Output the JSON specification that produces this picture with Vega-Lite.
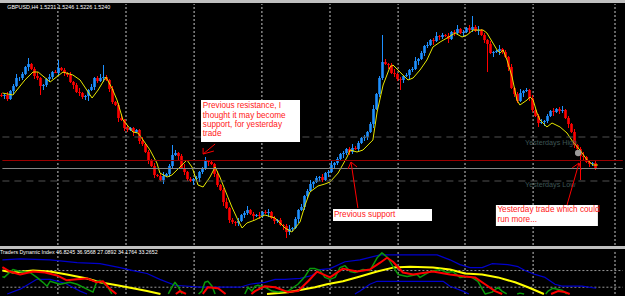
{
  "$schema": "https://vega.github.io/schema/vega-lite/v6.json",
  "background": "#c0c0c0",
  "padding": {"left": 0, "right": 0, "top": 3, "bottom": 0},
  "spacing": 3,
  "config": {"view": {"stroke": null, "fill": "#000000"}, "scale": {"continuousPadding": 0}, "line": {"strokeJoin": "round"}, "rule": {"strokeJoin": "round"}},
  "datasets": {
    "candles": [
      {"t":0,"o":151,"h":153,"l":149,"c":150},{"t":1,"o":150,"h":152,"l":147,"c":151},{"t":2,"o":151,"h":154,"l":145,"c":147},{"t":3,"o":147,"h":156,"l":146,"c":155},{"t":4,"o":155,"h":162,"l":151,"c":160},{"t":5,"o":160,"h":172,"l":159,"c":168},{"t":6,"o":168,"h":169,"l":165,"c":168},{"t":7,"o":168,"h":174,"l":166,"c":172},{"t":8,"o":172,"h":180,"l":171,"c":179},{"t":9,"o":179,"h":188,"l":175,"c":182},
      {"t":10,"o":182,"h":183,"l":176,"c":177},{"t":11,"o":177,"h":179,"l":167,"c":170},{"t":12,"o":170,"h":174,"l":166,"c":168},{"t":13,"o":168,"h":169,"l":151,"c":160},{"t":14,"o":160,"h":162,"l":156,"c":161},{"t":15,"o":161,"h":168,"l":159,"c":167},{"t":16,"o":167,"h":172,"l":164,"c":169},{"t":17,"o":169,"h":175,"l":167,"c":174},{"t":18,"o":174,"h":176,"l":173,"c":173},{"t":19,"o":173,"h":186,"l":170,"c":178},
      {"t":20,"o":178,"h":179,"l":175,"c":176},{"t":21,"o":176,"h":178,"l":170,"c":173},{"t":22,"o":173,"h":174,"l":169,"c":171},{"t":23,"o":171,"h":174,"l":163,"c":164},{"t":24,"o":164,"h":165,"l":157,"c":161},{"t":25,"o":161,"h":163,"l":153,"c":154},{"t":26,"o":154,"h":158,"l":150,"c":153},{"t":27,"o":153,"h":154,"l":147,"c":149},{"t":28,"o":149,"h":151,"l":146,"c":150},{"t":29,"o":150,"h":157,"l":145,"c":156},
      {"t":30,"o":156,"h":162,"l":155,"c":159},{"t":31,"o":159,"h":169,"l":156,"c":168},{"t":32,"o":168,"h":170,"l":163,"c":165},{"t":33,"o":165,"h":172,"l":164,"c":168},{"t":34,"o":168,"h":181,"l":164,"c":169},{"t":35,"o":169,"h":171,"l":165,"c":166},{"t":36,"o":166,"h":167,"l":154,"c":157},{"t":37,"o":157,"h":160,"l":142,"c":144},{"t":38,"o":144,"h":145,"l":140,"c":141},{"t":39,"o":141,"h":143,"l":124,"c":128},
      {"t":40,"o":128,"h":132,"l":125,"c":126},{"t":41,"o":126,"h":127,"l":115,"c":118},{"t":42,"o":118,"h":120,"l":114,"c":116},{"t":43,"o":116,"h":119,"l":115,"c":118},{"t":44,"o":118,"h":119,"l":110,"c":114},{"t":45,"o":114,"h":117,"l":113,"c":116},{"t":46,"o":116,"h":117,"l":102,"c":105},{"t":47,"o":105,"h":109,"l":100,"c":102},{"t":48,"o":102,"h":103,"l":93,"c":94},{"t":49,"o":94,"h":96,"l":82,"c":86},
      {"t":50,"o":86,"h":87,"l":79,"c":80},{"t":51,"o":80,"h":83,"l":68,"c":71},{"t":52,"o":71,"h":72,"l":69,"c":70},{"t":53,"o":70,"h":73,"l":65,"c":66},{"t":54,"o":66,"h":74,"l":62,"c":70},{"t":55,"o":70,"h":73,"l":69,"c":72},{"t":56,"o":72,"h":82,"l":69,"c":80},{"t":57,"o":80,"h":101,"l":78,"c":91},{"t":58,"o":91,"h":96,"l":90,"c":93},{"t":59,"o":93,"h":94,"l":86,"c":90},
      {"t":60,"o":90,"h":92,"l":77,"c":78},{"t":61,"o":78,"h":82,"l":71,"c":74},{"t":62,"o":74,"h":75,"l":65,"c":67},{"t":63,"o":67,"h":69,"l":64,"c":65},{"t":64,"o":65,"h":68,"l":61,"c":67},{"t":65,"o":67,"h":70,"l":66,"c":68},{"t":66,"o":68,"h":75,"l":64,"c":74},{"t":67,"o":74,"h":79,"l":72,"c":77},{"t":68,"o":77,"h":89,"l":76,"c":85},{"t":69,"o":85,"h":86,"l":80,"c":84},
      {"t":70,"o":84,"h":86,"l":81,"c":82},{"t":71,"o":82,"h":83,"l":69,"c":72},{"t":72,"o":72,"h":75,"l":59,"c":61},{"t":73,"o":61,"h":62,"l":55,"c":56},{"t":74,"o":56,"h":58,"l":40,"c":44},{"t":75,"o":44,"h":48,"l":37,"c":38},{"t":76,"o":38,"h":39,"l":23,"c":26},{"t":77,"o":26,"h":28,"l":22,"c":24},{"t":78,"o":24,"h":25,"l":20,"c":23},{"t":79,"o":23,"h":28,"l":20,"c":25},
      {"t":80,"o":25,"h":32,"l":24,"c":31},{"t":81,"o":31,"h":35,"l":28,"c":33},{"t":82,"o":33,"h":40,"l":31,"c":36},{"t":83,"o":36,"h":37,"l":31,"c":32},{"t":84,"o":32,"h":34,"l":26,"c":30},{"t":85,"o":30,"h":32,"l":29,"c":31},{"t":86,"o":31,"h":34,"l":27,"c":30},{"t":87,"o":30,"h":35,"l":28,"c":34},{"t":88,"o":34,"h":36,"l":32,"c":33},{"t":89,"o":33,"h":37,"l":29,"c":34},
      {"t":90,"o":34,"h":35,"l":27,"c":28},{"t":91,"o":28,"h":30,"l":22,"c":25},{"t":92,"o":25,"h":27,"l":23,"c":26},{"t":93,"o":26,"h":28,"l":20,"c":21},{"t":94,"o":21,"h":22,"l":16,"c":20},{"t":95,"o":20,"h":22,"l":8,"c":14},{"t":96,"o":14,"h":21,"l":11,"c":17},{"t":97,"o":17,"h":19,"l":15,"c":18},{"t":98,"o":18,"h":29,"l":17,"c":27},{"t":99,"o":27,"h":37,"l":23,"c":36},
      {"t":100,"o":36,"h":42,"l":35,"c":39},{"t":101,"o":39,"h":51,"l":36,"c":50},{"t":102,"o":50,"h":57,"l":48,"c":55},{"t":103,"o":55,"h":66,"l":54,"c":62},{"t":104,"o":62,"h":65,"l":58,"c":64},{"t":105,"o":64,"h":70,"l":63,"c":68},{"t":106,"o":68,"h":70,"l":65,"c":69},{"t":107,"o":69,"h":72,"l":64,"c":66},{"t":108,"o":66,"h":74,"l":65,"c":73},{"t":109,"o":73,"h":76,"l":69,"c":74},
      {"t":110,"o":74,"h":85,"l":73,"c":81},{"t":111,"o":81,"h":84,"l":78,"c":83},{"t":112,"o":83,"h":89,"l":81,"c":87},{"t":113,"o":87,"h":93,"l":86,"c":92},{"t":114,"o":92,"h":95,"l":88,"c":93},{"t":115,"o":93,"h":98,"l":91,"c":97},{"t":116,"o":97,"h":99,"l":91,"c":94},{"t":117,"o":94,"h":102,"l":92,"c":98},{"t":118,"o":98,"h":100,"l":96,"c":97},{"t":119,"o":97,"h":105,"l":95,"c":103},
      {"t":120,"o":103,"h":109,"l":102,"c":108},{"t":121,"o":108,"h":111,"l":105,"c":109},{"t":122,"o":109,"h":115,"l":106,"c":114},{"t":123,"o":114,"h":124,"l":113,"c":122},{"t":124,"o":122,"h":141,"l":118,"c":137},{"t":125,"o":137,"h":153,"l":136,"c":152},{"t":126,"o":152,"h":170,"l":149,"c":168},{"t":127,"o":168,"h":211,"l":166,"c":184},{"t":128,"o":184,"h":187,"l":181,"c":182},{"t":129,"o":182,"h":183,"l":177,"c":181},
      {"t":130,"o":181,"h":183,"l":172,"c":173},{"t":131,"o":173,"h":177,"l":169,"c":172},{"t":132,"o":172,"h":173,"l":165,"c":167},{"t":133,"o":167,"h":169,"l":156,"c":166},{"t":134,"o":166,"h":171,"l":163,"c":170},{"t":135,"o":170,"h":173,"l":169,"c":171},{"t":136,"o":171,"h":177,"l":167,"c":176},{"t":137,"o":176,"h":179,"l":174,"c":177},{"t":138,"o":177,"h":189,"l":176,"c":185},{"t":139,"o":185,"h":188,"l":181,"c":187},
      {"t":140,"o":187,"h":195,"l":186,"c":193},{"t":141,"o":193,"h":201,"l":190,"c":200},{"t":142,"o":200,"h":204,"l":198,"c":201},{"t":143,"o":201,"h":207,"l":200,"c":206},{"t":144,"o":206,"h":208,"l":201,"c":205},{"t":145,"o":205,"h":214,"l":204,"c":210},{"t":146,"o":210,"h":211,"l":206,"c":209},{"t":147,"o":209,"h":213,"l":207,"c":211},{"t":148,"o":211,"h":212,"l":209,"c":210},{"t":149,"o":210,"h":213,"l":203,"c":207},
      {"t":150,"o":207,"h":215,"l":206,"c":214},{"t":151,"o":214,"h":216,"l":210,"c":213},{"t":152,"o":213,"h":221,"l":211,"c":217},{"t":153,"o":217,"h":218,"l":212,"c":213},{"t":154,"o":213,"h":216,"l":209,"c":214},{"t":155,"o":214,"h":219,"l":213,"c":218},{"t":156,"o":218,"h":221,"l":213,"c":216},{"t":157,"o":216,"h":230,"l":214,"c":219},{"t":158,"o":219,"h":221,"l":214,"c":215},{"t":159,"o":215,"h":220,"l":211,"c":216},
      {"t":160,"o":216,"h":217,"l":210,"c":211},{"t":161,"o":211,"h":213,"l":203,"c":206},{"t":162,"o":206,"h":207,"l":174,"c":202},{"t":163,"o":202,"h":205,"l":192,"c":193},{"t":164,"o":193,"h":195,"l":189,"c":194},{"t":165,"o":194,"h":196,"l":193,"c":195},{"t":166,"o":195,"h":201,"l":191,"c":197},{"t":167,"o":197,"h":198,"l":192,"c":194},{"t":168,"o":194,"h":196,"l":188,"c":189},{"t":169,"o":189,"h":190,"l":175,"c":179},
      {"t":170,"o":179,"h":182,"l":157,"c":158},{"t":171,"o":158,"h":159,"l":149,"c":152},{"t":172,"o":152,"h":154,"l":143,"c":145},{"t":173,"o":145,"h":157,"l":144,"c":153},{"t":174,"o":153,"h":156,"l":149,"c":155},{"t":175,"o":155,"h":158,"l":154,"c":156},{"t":176,"o":156,"h":157,"l":145,"c":148},{"t":177,"o":148,"h":151,"l":134,"c":136},{"t":178,"o":136,"h":137,"l":129,"c":130},{"t":179,"o":130,"h":132,"l":119,"c":123},
      {"t":180,"o":123,"h":127,"l":122,"c":124},{"t":181,"o":124,"h":126,"l":120,"c":125},{"t":182,"o":125,"h":132,"l":123,"c":130},{"t":183,"o":130,"h":136,"l":129,"c":135},{"t":184,"o":135,"h":138,"l":130,"c":134},{"t":185,"o":134,"h":138,"l":133,"c":137},{"t":186,"o":137,"h":139,"l":132,"c":135},{"t":187,"o":135,"h":140,"l":133,"c":136},{"t":188,"o":136,"h":137,"l":127,"c":128},{"t":189,"o":128,"h":130,"l":118,"c":122},
      {"t":190,"o":122,"h":123,"l":113,"c":114},{"t":191,"o":114,"h":117,"l":98,"c":101},{"t":192,"o":101,"h":102,"l":95,"c":97},{"t":193,"o":97,"h":99,"l":66,"c":90},{"t":194,"o":90,"h":94,"l":85,"c":89},{"t":195,"o":89,"h":90,"l":83,"c":84},{"t":196,"o":84,"h":86,"l":79,"c":82},{"t":197,"o":82,"h":84,"l":80,"c":83},{"t":198,"o":83,"h":85,"l":76,"c":78}
    ],
    "ma": [
      {"t":0.3,"v":153},{"t":3.8,"v":151},{"t":7.8,"v":166},{"t":10.5,"v":174},{"t":12.2,"v":174},{"t":16.2,"v":164},{"t":20.5,"v":174},{"t":23.8,"v":171},{"t":26.2,"v":166},{"t":30.2,"v":148},{"t":32.2,"v":156},{"t":34.8,"v":169},{"t":36.8,"v":158},{"t":38.5,"v":146},{"t":40.5,"v":126},{"t":43.8,"v":114},{"t":45.5,"v":113},{"t":47.2,"v":106},{"t":49.5,"v":96},{"t":51.8,"v":83},{"t":52.8,"v":73},{"t":55.2,"v":69},{"t":56.8,"v":71},{"t":59.5,"v":79},{"t":61.8,"v":86},{"t":63.5,"v":79},{"t":65.5,"v":61},{"t":67.2,"v":59},{"t":69.5,"v":69},{"t":71.2,"v":79},{"t":72.8,"v":69},{"t":74.5,"v":56},{"t":76.8,"v":39},{"t":78.8,"v":26},{"t":80.2,"v":18},{"t":81.8,"v":23},{"t":84.5,"v":26},{"t":87.8,"v":31},{"t":91.2,"v":28},{"t":94.5,"v":18},{"t":96.8,"v":14},{"t":99.5,"v":24},{"t":101.2,"v":41},{"t":102.8,"v":54},{"t":105.5,"v":60},{"t":107.8,"v":62},{"t":109.5,"v":64},{"t":112.2,"v":73},{"t":115.2,"v":89},{"t":116.2,"v":96},{"t":118.5,"v":94},{"t":120.5,"v":96},{"t":123.8,"v":106},{"t":125.2,"v":134},{"t":127.2,"v":161},{"t":129.5,"v":179},{"t":130.5,"v":181},{"t":132.8,"v":174},{"t":135.5,"v":166},{"t":137.2,"v":168},{"t":139.5,"v":176},{"t":141.8,"v":186},{"t":143.8,"v":199},{"t":146.2,"v":204},{"t":148.5,"v":208},{"t":151.2,"v":213},{"t":153.5,"v":209},{"t":155.2,"v":211},{"t":157.2,"v":216},{"t":160.5,"v":216},{"t":161.8,"v":213},{"t":163.8,"v":203},{"t":165.2,"v":196},{"t":166.2,"v":193},{"t":167.2,"v":196},{"t":168.5,"v":186},{"t":170.2,"v":169},{"t":171.8,"v":146},{"t":172.8,"v":141},{"t":175.2,"v":146},{"t":176.2,"v":149},{"t":177.2,"v":146},{"t":178.5,"v":133},{"t":179.5,"v":126},{"t":181.8,"v":119},{"t":183.5,"v":123},{"t":186.2,"v":119},{"t":188.5,"v":113},{"t":190.5,"v":104},{"t":192.8,"v":96},{"t":195.2,"v":86},{"t":197.2,"v":81},{"t":198.8,"v":81}
    ],
    "grid": [{"t":18.8},{"t":41.5},{"t":64.2},{"t":86.8},{"t":109.5},{"t":132.2},{"t":154.5},{"t":177.2},{"t":204.5}],
    "levels": [{"v":109,"k":"dash"},{"v":65,"k":"dash"},{"v":85.5,"k":"red"},{"v":77.5,"k":"gray"}],
    "boxes": [{"t":66.5,"t2":99.5,"v":146,"v2":104},{"t":110.5,"t2":143.5,"v":37,"v2":25},{"t":164.8,"t2":198.8,"v":41,"v2":20}],
    "notes": [
      {"t":67.1,"v":140,"text":"Previous resistance, I"},
      {"t":67.1,"v":130.5,"text":"thought it may become"},
      {"t":67.1,"v":121.5,"text":"support, for yesterday"},
      {"t":67.1,"v":112,"text":"trade"},
      {"t":110.8,"v":31.5,"text":"Previous support"},
      {"t":165.3,"v":36,"text":"Yesterday trade which could"},
      {"t":165.3,"v":26.5,"text":"run more..."}
    ],
    "arrows": [
      {"t":71.2,"v":102,"t2":67.2,"v2":92},{"t":67.2,"v":92,"t2":67.2,"v2":98},{"t":67.2,"v":92,"t2":70.8,"v2":95},
      {"t":118.8,"v":38,"t2":116.5,"v2":84},{"t":116.5,"v":84,"t2":115.5,"v2":77},{"t":116.5,"v":84,"t2":118.5,"v2":79},
      {"t":188.5,"v":41,"t2":192.5,"v2":83},{"t":192.5,"v":83,"t2":190.2,"v2":78},{"t":192.5,"v":83,"t2":193.2,"v2":76}
    ],
    "labels": [{"t":174.5,"v":103.3,"text":"Yesterdays High"},{"t":174.5,"v":60.7,"text":"Yesterdays Low"}],
    "marker": [{"t":192.2,"v":93}],
    "title": [{"t":1.9,"v":239,"text":"GBPUSD,H4 1.5231 1.5246 1.5226 1.5240"}],
    "tdi": [
      {"s":"up","g":1,"t":0.3,"y":79.6},{"s":"up","g":1,"t":6.2,"y":80.7},{"s":"up","g":1,"t":16.2,"y":79.6},{"s":"up","g":1,"t":25.2,"y":76.5},{"s":"up","g":1,"t":32.8,"y":75.4},{"s":"up","g":1,"t":39.5,"y":71.2},{"s":"up","g":1,"t":43.8,"y":68},{"s":"up","g":1,"t":48.5,"y":64.8},{"s":"up","g":1,"t":52.8,"y":58.5},{"s":"up","g":1,"t":57.8,"y":52.1},{"s":"up","g":1,"t":66.2,"y":50},{"s":"up","g":1,"t":79.5,"y":50},{"s":"up","g":1,"t":82.8,"y":53.2},{"s":"up","g":1,"t":87.8,"y":55.3},{"s":"up","g":1,"t":91.2,"y":58.5},{"s":"up","g":1,"t":94.5,"y":58.5},{"s":"up","g":1,"t":99.5,"y":59.5},{"s":"up","g":1,"t":103.5,"y":62.7},{"s":"up","g":1,"t":106.2,"y":69.1},{"s":"up","g":1,"t":109.5,"y":70.1},{"s":"up","g":1,"t":114.5,"y":77.5},{"s":"up","g":1,"t":119.5,"y":79.6},{"s":"up","g":1,"t":126.2,"y":84.9},{"s":"up","g":1,"t":145.2,"y":84.9},{"s":"up","g":1,"t":149.5,"y":79.6},{"s":"up","g":1,"t":152.8,"y":74.4},{"s":"up","g":1,"t":156.2,"y":71.2},{"s":"up","g":1,"t":160.2,"y":71.2},{"s":"up","g":1,"t":163.5,"y":75.4},{"s":"up","g":1,"t":168.8,"y":74.4},{"s":"up","g":1,"t":172.2,"y":72.2},{"s":"up","g":1,"t":174.5,"y":68},{"s":"up","g":1,"t":177.8,"y":63.8},{"s":"up","g":1,"t":181.2,"y":60.6},{"s":"up","g":1,"t":184.5,"y":53.2},{"s":"up","g":1,"t":186.8,"y":51.1},{"s":"up","g":1,"t":193.5,"y":51.1},{"s":"up","g":1,"t":198.2,"y":48.9},
      {"s":"lo","g":1,"t":1.9,"y":42.7},{"s":"lo","g":1,"t":6.2,"y":47.9},{"s":"lo","g":1,"t":11.8,"y":58.5},{"s":"lo","g":1,"t":16.2,"y":58.5},{"s":"lo","g":1,"t":21.2,"y":54.2},{"s":"lo","g":1,"t":26.2,"y":45.8},{"s":"lo","g":1,"t":28.5,"y":42.7},
      {"s":"lo","g":2,"t":117.8,"y":42.7},{"s":"lo","g":2,"t":119.5,"y":45.8},{"s":"lo","g":2,"t":122.8,"y":53.2},{"s":"lo","g":2,"t":125.2,"y":56.4},{"s":"lo","g":2,"t":147.2,"y":56.4},{"s":"lo","g":2,"t":149.5,"y":51.1},{"s":"lo","g":2,"t":153.8,"y":45.8},{"s":"lo","g":2,"t":155.8,"y":42.7},
      {"s":"mid","g":1,"t":0.3,"y":68},{"s":"mid","g":1,"t":3.8,"y":65.9},{"s":"mid","g":1,"t":10.5,"y":68},{"s":"mid","g":1,"t":16.2,"y":66.9},{"s":"mid","g":1,"t":21.8,"y":63.8},{"s":"mid","g":1,"t":28.5,"y":59.5},{"s":"mid","g":1,"t":32.8,"y":55.3},{"s":"mid","g":1,"t":38.5,"y":52.1},{"s":"mid","g":1,"t":43.8,"y":48.9},{"s":"mid","g":1,"t":48.5,"y":45.8},{"s":"mid","g":1,"t":53.0,"y":42.7},
      {"s":"mid","g":2,"t":88.5,"y":42.7},{"s":"mid","g":2,"t":95.5,"y":44.6},{"s":"mid","g":2,"t":104.5,"y":50},{"s":"mid","g":2,"t":108.5,"y":53.2},{"s":"mid","g":2,"t":113.8,"y":56.4},{"s":"mid","g":2,"t":119.5,"y":61.6},{"s":"mid","g":2,"t":125.2,"y":66.9},{"s":"mid","g":2,"t":130.5,"y":71.2},{"s":"mid","g":2,"t":136.2,"y":72.2},{"s":"mid","g":2,"t":143.8,"y":71.2},{"s":"mid","g":2,"t":149.5,"y":69.1},{"s":"mid","g":2,"t":154.5,"y":64.8},{"s":"mid","g":2,"t":160.2,"y":63.8},{"s":"mid","g":2,"t":165.5,"y":60.6},{"s":"mid","g":2,"t":171.2,"y":55.3},{"s":"mid","g":2,"t":175.5,"y":50},{"s":"mid","g":2,"t":180.8,"y":42.7},
      {"s":"rsi","g":1,"t":0.3,"y":61.5},{"s":"rsi","g":1,"t":0.9,"y":60.6},{"s":"rsi","g":1,"t":3.8,"y":69.1},{"s":"rsi","g":1,"t":6.2,"y":66.9},{"s":"rsi","g":1,"t":9.5,"y":65.9},{"s":"rsi","g":1,"t":11.8,"y":60.6},{"s":"rsi","g":1,"t":13.8,"y":55.3},{"s":"rsi","g":1,"t":15.2,"y":51.1},{"s":"rsi","g":1,"t":16.2,"y":56.4},{"s":"rsi","g":1,"t":19.5,"y":53.2},{"s":"rsi","g":1,"t":22.8,"y":55.3},{"s":"rsi","g":1,"t":25.2,"y":53.2},{"s":"rsi","g":1,"t":28.5,"y":47.9},{"s":"rsi","g":1,"t":30.5,"y":44.7},{"s":"rsi","g":1,"t":31.8,"y":56.4},{"s":"rsi","g":1,"t":32.8,"y":57.4},{"s":"rsi","g":1,"t":35.2,"y":51.1},{"s":"rsi","g":1,"t":36.8,"y":42.7},
      {"s":"rsi","g":2,"t":55.6,"y":42.7},{"s":"rsi","g":2,"t":56.8,"y":50},{"s":"rsi","g":2,"t":57.8,"y":55.3},{"s":"rsi","g":2,"t":58.8,"y":51.1},{"s":"rsi","g":2,"t":60.2,"y":42.7},
      {"s":"rsi","g":3,"t":65.7,"y":42.7},{"s":"rsi","g":3,"t":66.8,"y":45.8},{"s":"rsi","g":3,"t":67.8,"y":55.3},{"s":"rsi","g":3,"t":68.8,"y":56.4},{"s":"rsi","g":3,"t":70.2,"y":51.1},{"s":"rsi","g":3,"t":71.2,"y":42.7},
      {"s":"rsi","g":4,"t":81.1,"y":42.7},{"s":"rsi","g":4,"t":82.2,"y":50},{"s":"rsi","g":4,"t":83.5,"y":45.8},{"s":"rsi","g":4,"t":84.5,"y":51.1},{"s":"rsi","g":4,"t":85.5,"y":52.1},{"s":"rsi","g":4,"t":87.8,"y":50},{"s":"rsi","g":4,"t":90.2,"y":45.8},{"s":"rsi","g":4,"t":92.2,"y":44.7},{"s":"rsi","g":4,"t":95.5,"y":45.8},{"s":"rsi","g":4,"t":98.8,"y":53.2},{"s":"rsi","g":4,"t":101.2,"y":61.6},{"s":"rsi","g":4,"t":102.8,"y":70.1},{"s":"rsi","g":4,"t":104.5,"y":70.1},{"s":"rsi","g":4,"t":106.2,"y":68},{"s":"rsi","g":4,"t":107.8,"y":60.6},{"s":"rsi","g":4,"t":109.5,"y":58.5},{"s":"rsi","g":4,"t":111.2,"y":60.6},{"s":"rsi","g":4,"t":112.8,"y":71.2},{"s":"rsi","g":4,"t":114.5,"y":73.3},{"s":"rsi","g":4,"t":116.2,"y":66.9},{"s":"rsi","g":4,"t":117.8,"y":65.9},{"s":"rsi","g":4,"t":120.5,"y":69.1},{"s":"rsi","g":4,"t":122.8,"y":68},{"s":"rsi","g":4,"t":125.2,"y":81.8},{"s":"rsi","g":4,"t":126.8,"y":87.1},{"s":"rsi","g":4,"t":128.8,"y":81.8},{"s":"rsi","g":4,"t":130.5,"y":72.2},{"s":"rsi","g":4,"t":132.2,"y":63.8},{"s":"rsi","g":4,"t":135.2,"y":61.6},{"s":"rsi","g":4,"t":138.5,"y":63.8},{"s":"rsi","g":4,"t":139.5,"y":60.6},{"s":"rsi","g":4,"t":142.8,"y":66.9},{"s":"rsi","g":4,"t":146.2,"y":69.1},{"s":"rsi","g":4,"t":148.5,"y":65.9},{"s":"rsi","g":4,"t":150.5,"y":66.9},{"s":"rsi","g":4,"t":152.8,"y":60.6},{"s":"rsi","g":4,"t":155.2,"y":61.6},{"s":"rsi","g":4,"t":156.8,"y":60.6},{"s":"rsi","g":4,"t":158.8,"y":56.4},{"s":"rsi","g":4,"t":161.2,"y":42.7},{"s":"rsi","g":4,"t":163.5,"y":44.7},{"s":"rsi","g":4,"t":165.5,"y":50},{"s":"rsi","g":4,"t":166.8,"y":45.8},{"s":"rsi","g":4,"t":168.4,"y":42.7},
      {"s":"rsi","g":5,"t":171.9,"y":42.7},{"s":"rsi","g":5,"t":172.8,"y":43.6},{"s":"rsi","g":5,"t":174.2,"y":42.7},
      {"s":"rsi","g":6,"t":181.4,"y":42.7},{"s":"rsi","g":6,"t":182.2,"y":45.8},{"s":"rsi","g":6,"t":183.8,"y":48.9},{"s":"rsi","g":6,"t":186.8,"y":46.8},{"s":"rsi","g":6,"t":188.4,"y":42.7},
      {"s":"sig","g":1,"t":0.3,"y":71.8},{"s":"sig","g":1,"t":2.8,"y":66.9},{"s":"sig","g":1,"t":6.2,"y":63.8},{"s":"sig","g":1,"t":10.5,"y":66.9},{"s":"sig","g":1,"t":14.5,"y":65.9},{"s":"sig","g":1,"t":18.5,"y":62.7},{"s":"sig","g":1,"t":21.8,"y":57.4},{"s":"sig","g":1,"t":25.2,"y":58.5},{"s":"sig","g":1,"t":28.5,"y":59.5},{"s":"sig","g":1,"t":31.8,"y":55.3},{"s":"sig","g":1,"t":33.8,"y":56.4},{"s":"sig","g":1,"t":36.2,"y":47.9},{"s":"sig","g":1,"t":38.3,"y":42.7},
      {"s":"sig","g":2,"t":58.1,"y":42.7},{"s":"sig","g":2,"t":59.5,"y":45.8},{"s":"sig","g":2,"t":61.5,"y":42.7},
      {"s":"sig","g":3,"t":67.1,"y":42.7},{"s":"sig","g":3,"t":68.8,"y":50},{"s":"sig","g":3,"t":72.2,"y":48.9},{"s":"sig","g":3,"t":74.7,"y":42.7},
      {"s":"sig","g":4,"t":83.3,"y":42.7},{"s":"sig","g":4,"t":84.5,"y":45.8},{"s":"sig","g":4,"t":87.8,"y":51.1},{"s":"sig","g":4,"t":91.2,"y":50},{"s":"sig","g":4,"t":95.5,"y":44.7},{"s":"sig","g":4,"t":98.8,"y":45.8},{"s":"sig","g":4,"t":102.2,"y":56.4},{"s":"sig","g":4,"t":105.2,"y":66.9},{"s":"sig","g":4,"t":109.5,"y":60.6},{"s":"sig","g":4,"t":113.8,"y":70.1},{"s":"sig","g":4,"t":118.5,"y":66.9},{"s":"sig","g":4,"t":122.8,"y":69.1},{"s":"sig","g":4,"t":126.2,"y":76.5},{"s":"sig","g":4,"t":128.5,"y":81.8},{"s":"sig","g":4,"t":130.5,"y":77.5},{"s":"sig","g":4,"t":133.8,"y":65.9},{"s":"sig","g":4,"t":137.2,"y":63.8},{"s":"sig","g":4,"t":143.8,"y":66.9},{"s":"sig","g":4,"t":149.5,"y":63.8},{"s":"sig","g":4,"t":154.5,"y":61.6},{"s":"sig","g":4,"t":157.8,"y":60.6},{"s":"sig","g":4,"t":161.2,"y":53.2},{"s":"sig","g":4,"t":164.5,"y":45.8},{"s":"sig","g":4,"t":166.9,"y":42.7},
      {"s":"sig","g":5,"t":183.2,"y":42.7},{"s":"sig","g":5,"t":185.5,"y":45.8},{"s":"sig","g":5,"t":187.8,"y":44.7},{"s":"sig","g":5,"t":189.4,"y":42.7}
    ],
    "tdilevels": [{"y":68},{"y":50}],
    "tdititle": [{"t":-0.5,"y":88.3,"text":"Traders Dynamic Index 46.8245 36.9568 27.0892 34.1764 33.2652"}]
  },
  "vconcat": [
    {
      "width": 625,
      "height": 243,
      "layer": [
        {"data": {"name": "grid"}, "mark": {"type": "rule", "color": "#c8c8c8", "strokeDash": [2, 2], "strokeWidth": 1},
         "encoding": {
           "x": {"field": "t", "type": "quantitative", "scale": {"domain": [-0.5, 207.83], "nice": false, "zero": false, "padding": 0}, "axis": null},
           "y": {"datum": 1, "type": "quantitative", "scale": {"domain": [0, 243], "nice": false, "zero": false, "padding": 0}, "axis": null},
           "y2": {"datum": 242}}},
        {"data": {"name": "candles"}, "mark": {"type": "rule", "strokeWidth": 1},
         "encoding": {
           "x": {"field": "t", "type": "quantitative", "scale": {"domain": [-0.5, 207.83], "nice": false, "zero": false, "padding": 0}, "axis": null},
           "y": {"field": "l", "type": "quantitative", "scale": {"domain": [0, 243], "nice": false, "zero": false, "padding": 0}, "axis": null},
           "y2": {"field": "h"},
           "color": {"condition": {"test": "datum.c >= datum.o", "value": "#1E90FF"}, "value": "#FF0000"}}},
        {"data": {"name": "candles"}, "mark": {"type": "bar", "size": 2.6},
         "encoding": {
           "x": {"field": "t", "type": "quantitative", "scale": {"domain": [-0.5, 207.83], "nice": false, "zero": false, "padding": 0}, "axis": null},
           "y": {"field": "o", "type": "quantitative", "scale": {"domain": [0, 243], "nice": false, "zero": false, "padding": 0}, "axis": null},
           "y2": {"field": "c"},
           "color": {"condition": {"test": "datum.c >= datum.o", "value": "#1E90FF"}, "value": "#FF0000"}}},
        {"data": {"name": "ma"}, "mark": {"type": "line", "color": "#E6E600", "strokeWidth": 1},
         "encoding": {
           "x": {"field": "t", "type": "quantitative", "scale": {"domain": [-0.5, 207.83], "nice": false, "zero": false, "padding": 0}, "axis": null},
           "y": {"field": "v", "type": "quantitative", "scale": {"domain": [0, 243], "nice": false, "zero": false, "padding": 0}, "axis": null}}},
        {"data": {"name": "levels"}, "transform": [{"filter": "datum.k == 'dash'"}], "mark": {"type": "rule", "color": "#505050", "strokeDash": [7, 5], "strokeWidth": 1},
         "encoding": {
           "x": {"datum": 0.3, "type": "quantitative", "scale": {"domain": [-0.5, 207.83], "nice": false, "zero": false, "padding": 0}, "axis": null},
           "x2": {"datum": 207.1},
           "y": {"field": "v", "type": "quantitative", "scale": {"domain": [0, 243], "nice": false, "zero": false, "padding": 0}, "axis": null}}},
        {"data": {"name": "levels"}, "transform": [{"filter": "datum.k == 'red'"}], "mark": {"type": "rule", "color": "#9A0000", "strokeWidth": 1},
         "encoding": {
           "x": {"datum": 0.3, "type": "quantitative", "scale": {"domain": [-0.5, 207.83], "nice": false, "zero": false, "padding": 0}, "axis": null},
           "x2": {"datum": 207.1},
           "y": {"field": "v", "type": "quantitative", "scale": {"domain": [0, 243], "nice": false, "zero": false, "padding": 0}, "axis": null}}},
        {"data": {"name": "levels"}, "transform": [{"filter": "datum.k == 'gray'"}], "mark": {"type": "rule", "color": "#858585", "strokeWidth": 1},
         "encoding": {
           "x": {"datum": 0.3, "type": "quantitative", "scale": {"domain": [-0.5, 207.83], "nice": false, "zero": false, "padding": 0}, "axis": null},
           "x2": {"datum": 207.1},
           "y": {"field": "v", "type": "quantitative", "scale": {"domain": [0, 243], "nice": false, "zero": false, "padding": 0}, "axis": null}}},
        {"data": {"name": "labels"}, "mark": {"type": "text", "align": "left", "baseline": "middle", "font": "Liberation Sans", "fontSize": 7.2, "color": "#3e5454"},
         "encoding": {
           "x": {"field": "t", "type": "quantitative", "scale": {"domain": [-0.5, 207.83], "nice": false, "zero": false, "padding": 0}, "axis": null},
           "y": {"field": "v", "type": "quantitative", "scale": {"domain": [0, 243], "nice": false, "zero": false, "padding": 0}, "axis": null},
           "text": {"field": "text"}}},
        {"data": {"name": "marker"}, "mark": {"type": "point", "shape": "circle", "filled": true, "size": 40, "color": "#9a9a9a", "opacity": 1},
         "encoding": {
           "x": {"field": "t", "type": "quantitative", "scale": {"domain": [-0.5, 207.83], "nice": false, "zero": false, "padding": 0}, "axis": null},
           "y": {"field": "v", "type": "quantitative", "scale": {"domain": [0, 243], "nice": false, "zero": false, "padding": 0}, "axis": null}}},
        {"data": {"name": "boxes"}, "mark": {"type": "rect", "color": "#FFFFFF"},
         "encoding": {
           "x": {"field": "t", "type": "quantitative", "scale": {"domain": [-0.5, 207.83], "nice": false, "zero": false, "padding": 0}, "axis": null},
           "x2": {"field": "t2"},
           "y": {"field": "v", "type": "quantitative", "scale": {"domain": [0, 243], "nice": false, "zero": false, "padding": 0}, "axis": null},
           "y2": {"field": "v2"}}},
        {"data": {"name": "notes"}, "mark": {"type": "text", "align": "left", "baseline": "middle", "font": "Liberation Sans", "fontSize": 8.2, "color": "#FF2020"},
         "encoding": {
           "x": {"field": "t", "type": "quantitative", "scale": {"domain": [-0.5, 207.83], "nice": false, "zero": false, "padding": 0}, "axis": null},
           "y": {"field": "v", "type": "quantitative", "scale": {"domain": [0, 243], "nice": false, "zero": false, "padding": 0}, "axis": null},
           "text": {"field": "text"}}},
        {"data": {"name": "arrows"}, "mark": {"type": "rule", "color": "#FF0000", "strokeWidth": 1},
         "encoding": {
           "x": {"field": "t", "type": "quantitative", "scale": {"domain": [-0.5, 207.83], "nice": false, "zero": false, "padding": 0}, "axis": null},
           "x2": {"field": "t2"},
           "y": {"field": "v", "type": "quantitative", "scale": {"domain": [0, 243], "nice": false, "zero": false, "padding": 0}, "axis": null},
           "y2": {"field": "v2"}}},
        {"data": {"name": "title"}, "mark": {"type": "text", "align": "left", "baseline": "middle", "font": "Liberation Sans", "fontSize": 5.4, "color": "#FFFFFF"},
         "encoding": {
           "x": {"field": "t", "type": "quantitative", "scale": {"domain": [-0.5, 207.83], "nice": false, "zero": false, "padding": 0}, "axis": null},
           "y": {"field": "v", "type": "quantitative", "scale": {"domain": [0, 243], "nice": false, "zero": false, "padding": 0}, "axis": null},
           "text": {"field": "text"}}}
      ]
    },
    {
      "width": 625,
      "height": 47,
      "layer": [
        {"data": {"name": "grid"}, "mark": {"type": "rule", "color": "#c8c8c8", "strokeDash": [2, 2], "strokeWidth": 1},
         "encoding": {
           "x": {"field": "t", "type": "quantitative", "scale": {"domain": [-0.5, 207.83], "nice": false, "zero": false, "padding": 0}, "axis": null},
           "y": {"datum": 42.7, "type": "quantitative", "scale": {"domain": [40.5, 91.3], "nice": false, "zero": false, "padding": 0}, "axis": null},
           "y2": {"datum": 90.2}}},
        {"data": {"name": "tdilevels"}, "mark": {"type": "rule", "color": "#9a9a9a", "strokeDash": [2, 2], "strokeWidth": 1},
         "encoding": {
           "x": {"datum": 0.3, "type": "quantitative", "scale": {"domain": [-0.5, 207.83], "nice": false, "zero": false, "padding": 0}, "axis": null},
           "x2": {"datum": 207.1},
           "y": {"field": "y", "type": "quantitative", "scale": {"domain": [40.5, 91.3], "nice": false, "zero": false, "padding": 0}, "axis": null}}},
        {"data": {"name": "tdi"}, "transform": [{"filter": "datum.s == 'up' || datum.s == 'lo'"}], "mark": {"type": "line", "color": "#0000CD", "strokeWidth": 1.2},
         "encoding": {
           "x": {"field": "t", "type": "quantitative", "scale": {"domain": [-0.5, 207.83], "nice": false, "zero": false, "padding": 0}, "axis": null},
           "y": {"field": "y", "type": "quantitative", "scale": {"domain": [40.5, 91.3], "nice": false, "zero": false, "padding": 0}, "axis": null},
           "detail": [{"field": "s", "type": "nominal"}, {"field": "g", "type": "nominal"}]}},
        {"data": {"name": "tdi"}, "transform": [{"filter": "datum.s == 'mid'"}], "mark": {"type": "line", "color": "#FFFF00", "strokeWidth": 2},
         "encoding": {
           "x": {"field": "t", "type": "quantitative", "scale": {"domain": [-0.5, 207.83], "nice": false, "zero": false, "padding": 0}, "axis": null},
           "y": {"field": "y", "type": "quantitative", "scale": {"domain": [40.5, 91.3], "nice": false, "zero": false, "padding": 0}, "axis": null},
           "detail": {"field": "g", "type": "nominal"}}},
        {"data": {"name": "tdi"}, "transform": [{"filter": "datum.s == 'rsi'"}], "mark": {"type": "line", "color": "#0A9A0A", "strokeWidth": 1.5},
         "encoding": {
           "x": {"field": "t", "type": "quantitative", "scale": {"domain": [-0.5, 207.83], "nice": false, "zero": false, "padding": 0}, "axis": null},
           "y": {"field": "y", "type": "quantitative", "scale": {"domain": [40.5, 91.3], "nice": false, "zero": false, "padding": 0}, "axis": null},
           "detail": {"field": "g", "type": "nominal"}}},
        {"data": {"name": "tdi"}, "transform": [{"filter": "datum.s == 'sig'"}], "mark": {"type": "line", "color": "#FF0000", "strokeWidth": 2},
         "encoding": {
           "x": {"field": "t", "type": "quantitative", "scale": {"domain": [-0.5, 207.83], "nice": false, "zero": false, "padding": 0}, "axis": null},
           "y": {"field": "y", "type": "quantitative", "scale": {"domain": [40.5, 91.3], "nice": false, "zero": false, "padding": 0}, "axis": null},
           "detail": {"field": "g", "type": "nominal"}}},
        {"data": {"name": "tdititle"}, "mark": {"type": "text", "align": "left", "baseline": "middle", "font": "Liberation Sans", "fontSize": 5.3, "color": "#FFFFFF"},
         "encoding": {
           "x": {"field": "t", "type": "quantitative", "scale": {"domain": [-0.5, 207.83], "nice": false, "zero": false, "padding": 0}, "axis": null},
           "y": {"field": "y", "type": "quantitative", "scale": {"domain": [40.5, 91.3], "nice": false, "zero": false, "padding": 0}, "axis": null},
           "text": {"field": "text"}}}
      ]
    }
  ]
}
